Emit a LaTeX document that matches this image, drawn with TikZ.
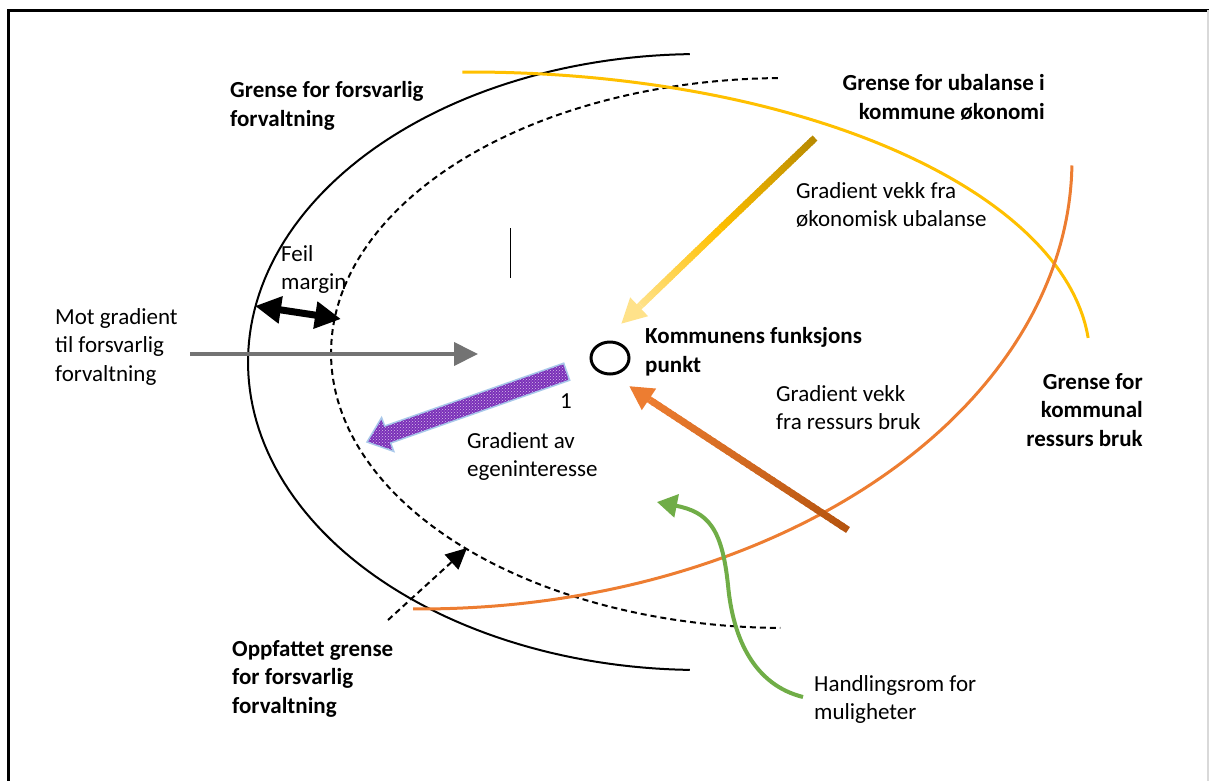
\documentclass[tikz,border=0pt]{standalone}
\usepackage{fontspec}
\setmainfont{Carlito}
\usetikzlibrary{arrows.meta,calc,patterns,shapes.geometric}

\definecolor{gold}{HTML}{FFC000}
\definecolor{darkgold}{HTML}{B88A00}
\definecolor{paleyellow}{HTML}{FFE28A}
\definecolor{orangeline}{HTML}{ED7D31}
\definecolor{rust}{HTML}{B5540F}
\definecolor{greenline}{HTML}{70AD47}
\definecolor{greyarrow}{HTML}{737373}
\definecolor{purplefill}{HTML}{7A2FB8}
\definecolor{paleblue}{HTML}{A9C8EA}
\definecolor{framegrey}{HTML}{D9D9D9}

% shaft of an arrow whose colour runs from #3 (at #1) to #4 (at #2)
\newcommand\gradshaft[5]{%
  \foreach \k in {0,...,39}{%
    \pgfmathsetmacro\fa{\k/40}%
    \pgfmathsetmacro\fb{min(1,(\k+1.4)/40)}%
    \pgfmathsetmacro\pc{100-\k*2.5}%
    \draw[line width=#5, color=#3!\pc!#4] ($(#1)!\fa!(#2)$) -- ($(#1)!\fb!(#2)$);
  }%
}

\tikzset{
  lbl/.style={inner sep=0pt, anchor=north west, align=left,
              font={\fontsize{23}{28.7}\selectfont}},
  lblb/.style={lbl, font={\fontsize{23}{28.7}\selectfont\bfseries}},
  lblr/.style={lblb, anchor=north east, align=right},
  boundary/.style={line width=2pt},
  dashedline/.style={line width=2pt, dash pattern=on 6pt off 4pt},
}

\begin{document}
\begin{tikzpicture}[x=1pt,y=-1pt]
\useasboundingbox (0,0) rectangle (1210,780);

% frame
\draw[line width=3pt] (8,782) -- (8,10) -- (1209,10);
\draw[framegrey, line width=1.5pt] (1208,10) -- (1208,782);

% boundary of responsible management (solid) and perceived boundary (dashed)
\draw[boundary] plot[domain=91.3:268.7, samples=120]
  ({700+452*cos(\x)}, {362-308*sin(\x)});
\draw[dashedline] plot[domain=90.9:269.4, samples=120]
  ({785+454*cos(\x)}, {353-275*sin(\x)});

% boundary of economic imbalance
\draw[gold, line width=3pt] plot[domain=90.7:4.4, samples=90]
  ({470+620*cos(\x)}, {360-288*sin(\x)});

% boundary of municipal resource use
\draw[orangeline, line width=3pt] plot[domain=0.7:90.6, samples=90]
  ({420+652*cos(\x)}, {160+449*sin(\x)});

% operating point
\node[draw, ellipse, line width=3pt, minimum width=38pt, minimum height=32pt,
      inner sep=0pt] (pt) at (610,358) {};

% small vertical tick
\coordinate (tickA) at (510,228);
\coordinate (tickB) at (510,278);
\draw[line width=1pt] (tickA) -- (tickB);

% counter-gradient towards responsible management
\coordinate (gA) at (190,354);
\coordinate (gB) at (478,354);
\draw[greyarrow, line width=4pt, -{Triangle[length=24pt,width=23pt]}] (gA) -- (gB);

% error margin
\coordinate (mA) at (255,306);
\coordinate (mB) at (341,319);
\draw[line width=7pt, {Triangle[length=26pt,width=26pt]}-{Triangle[length=26pt,width=26pt]}] (mA) -- (mB);

% gradient away from economic imbalance
\coordinate (yT) at (815,138);
\coordinate (yM) at (720,229);
\coordinate (yP) at (641,305);
\coordinate (yH) at (621,324);
\gradshaft{yT}{yM}{darkgold}{gold}{7pt}
\gradshaft{yM}{yP}{gold}{paleyellow}{7pt}
\draw[paleyellow, line width=7pt, -{Triangle[length=25pt,width=24pt]}] (yP) -- (yH);

% gradient away from resource use
\coordinate (oT) at (848,530);
\coordinate (oP) at (650,400);
\coordinate (oH) at (629,386);
\gradshaft{oT}{oP}{rust}{orangeline}{7pt}
\draw[orangeline, line width=7pt, -{Triangle[length=24pt,width=24pt]}] (oP) -- (oH);

% gradient of self-interest
\draw[paleblue, line width=1.5pt, preaction={fill=purplefill},
      pattern=crosshatch dots, pattern color=white!70!purplefill]
  (563.7,363.2) -- (384.7,426.0) -- (381.6,417.6) -- (367,442)
  -- (393.8,451.4) -- (390.7,443.0) -- (569.7,380.2) -- cycle;

% perceived boundary pointer
\coordinate (dT) at (388,620);
\coordinate (dH) at (467,548);
\draw[line width=2pt, dash pattern=on 6pt off 4pt,
      -{Triangle[length=21pt,width=20pt]}] (dT) -- (dH);

% room for action
\coordinate (hT) at (803,697);
\coordinate (hM) at (728,585);
\coordinate (hH) at (657,502);
\draw[greenline, line width=4pt, -{Triangle[length=20pt,width=23pt]}]
  (hT) .. controls (755,685) and (733,640) .. (hM)
       .. controls (722,528) and (708,512) .. (hH);

% labels
\node[lblb] (t1) at (230,81) {Grense for forsvarlig\\forvaltning};
\node[lblr] (t2) at (1045,74) {Grense for ubalanse i\\kommune økonomi};
\node[lbl]  (t3) at (796,182) {Gradient vekk fra\\økonomisk ubalanse};
\node[lbl]  (t4) at (281,245) {Feil\\margin};
\node[lbl]  (t5) at (55,308) {Mot gradient\\til forsvarlig\\forvaltning};
\node[lblb] (t6) at (645,327) {Kommunens funksjons\\punkt};
\node[lbl]  (t7) at (776,385) {Gradient vekk\\fra ressurs bruk};
\node[lblr] (t8) at (1143,373) {Grense for\\kommunal\\ressurs bruk};
\node[lbl]  (t9) at (560,393) {1};
\node[lbl]  (t10) at (467,432) {Gradient av\\egeninteresse};
\node[lblb] (t11) at (232,640) {Oppfattet grense\\for forsvarlig\\forvaltning};
\node[lbl]  (t12) at (814,675) {Handlingsrom for\\muligheter};
\end{tikzpicture}
\end{document}
